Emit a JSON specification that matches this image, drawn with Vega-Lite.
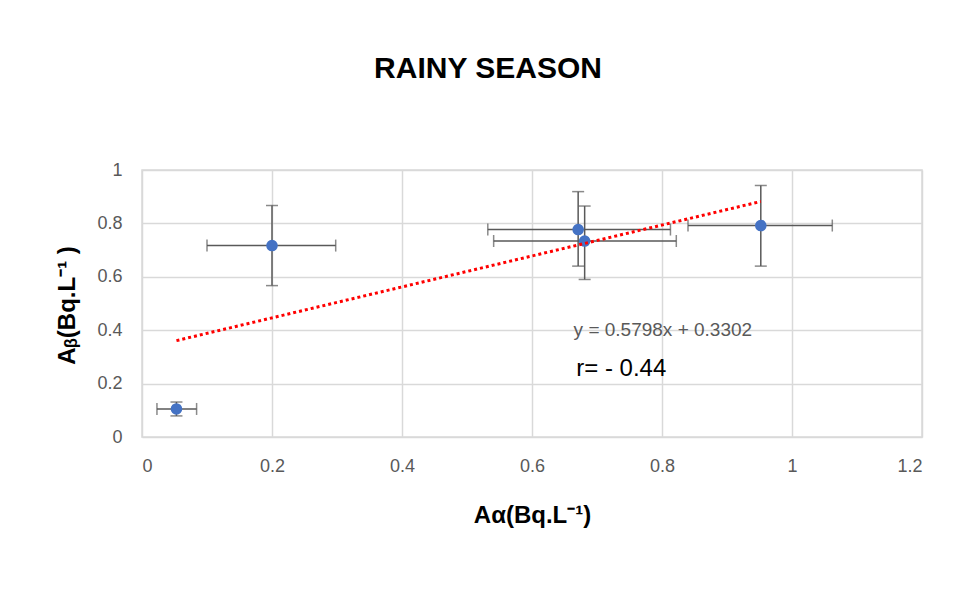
{
  "$schema": "https://vega.github.io/schema/vega-lite/v6.json",
  "width": 780,
  "height": 267,
  "autosize": {"type": "none"},
  "padding": {"left": 142, "top": 170, "right": 31, "bottom": 154},
  "background": "white",
  "title": {
    "text": "RAINY SEASON",
    "font": "Liberation Sans",
    "fontSize": 30,
    "fontWeight": "bold",
    "color": "#000000",
    "anchor": "middle",
    "frame": "group",
    "dx": -44,
    "baseline": "bottom",
    "offset": 47
  },
  "config": {
    "view": {"stroke": "#d9d9d9", "strokeWidth": 1.5},
    "axis": {
      "labelFont": "Liberation Sans",
      "labelFontSize": 18,
      "labelColor": "#595959",
      "titleFont": "Liberation Sans",
      "titleFontSize": 24,
      "titleFontWeight": "bold",
      "titleColor": "#000000",
      "gridColor": "#d9d9d9",
      "gridWidth": 1.5,
      "domain": false,
      "ticks": false,
      "tickSize": 0,
      "format": "~g"
    }
  },
  "datasets": {
    "points": [
      {"ax": 0.053, "ab": 0.105, "ax_lo": 0.023, "ax_hi": 0.084, "ab_lo": 0.079, "ab_hi": 0.131},
      {"ax": 0.2, "ab": 0.717, "ax_lo": 0.1, "ax_hi": 0.298, "ab_lo": 0.567, "ab_hi": 0.867},
      {"ax": 0.671, "ab": 0.777, "ax_lo": 0.532, "ax_hi": 0.813, "ab_lo": 0.64, "ab_hi": 0.919},
      {"ax": 0.681, "ab": 0.734, "ax_lo": 0.541, "ax_hi": 0.822, "ab_lo": 0.59, "ab_hi": 0.865},
      {"ax": 0.952, "ab": 0.792, "ax_lo": 0.84, "ax_hi": 1.062, "ab_lo": 0.64, "ab_hi": 0.942}
    ],
    "trend": [
      {"ax": 0.053, "ab": 0.361},
      {"ax": 0.952, "ab": 0.882}
    ],
    "notes": [
      {"label": "y = 0.5798x + 0.3302", "kind": "equation"},
      {"label": "r= - 0.44", "kind": "r"}
    ]
  },
  "layer": [
    {
      "data": {"name": "points"},
      "mark": {"type": "rule", "color": "#595959", "strokeWidth": 1.5},
      "encoding": {
        "x": {"field": "ax_lo", "type": "quantitative",
          "scale": {"domain": [0, 1.2], "nice": false, "zero": false},
          "axis": {"values": [0, 0.2, 0.4, 0.6, 0.8, 1, 1.2], "format": "~g", "title": "Aα(Bq.L⁻¹)", "labelPadding": 20,
            "titleX": 390, "titleY": 78, "titleBaseline": "middle", "titleAlign": "center"}},
        "x2": {"field": "ax_hi"},
        "y": {"field": "ab", "type": "quantitative",
          "scale": {"domain": [0, 1], "nice": false, "zero": false},
          "axis": {"values": [0, 0.2, 0.4, 0.6, 0.8, 1], "format": "~g", "title": "Aᵦ(Bq.L⁻¹ )", "labelPadding": 20,
            "titleX": -75, "titleY": 135, "titleAngle": 270, "titleBaseline": "middle", "titleAlign": "center"}}
      }
    },
    {
      "data": {"name": "points"},
      "mark": {"type": "rule", "color": "#595959", "strokeWidth": 1.5},
      "encoding": {
        "x": {"field": "ax", "type": "quantitative"},
        "y": {"field": "ab_lo", "type": "quantitative"},
        "y2": {"field": "ab_hi"}
      }
    },
    {
      "data": {"name": "points"},
      "mark": {"type": "tick", "orient": "vertical", "color": "#595959", "thickness": 1.5, "size": 12},
      "encoding": {
        "x": {"field": "ax_lo", "type": "quantitative"},
        "y": {"field": "ab", "type": "quantitative"}
      }
    },
    {
      "data": {"name": "points"},
      "mark": {"type": "tick", "orient": "vertical", "color": "#595959", "thickness": 1.5, "size": 12},
      "encoding": {
        "x": {"field": "ax_hi", "type": "quantitative"},
        "y": {"field": "ab", "type": "quantitative"}
      }
    },
    {
      "data": {"name": "points"},
      "mark": {"type": "tick", "orient": "horizontal", "color": "#595959", "thickness": 1.5, "size": 12},
      "encoding": {
        "x": {"field": "ax", "type": "quantitative"},
        "y": {"field": "ab_lo", "type": "quantitative"}
      }
    },
    {
      "data": {"name": "points"},
      "mark": {"type": "tick", "orient": "horizontal", "color": "#595959", "thickness": 1.5, "size": 12},
      "encoding": {
        "x": {"field": "ax", "type": "quantitative"},
        "y": {"field": "ab_hi", "type": "quantitative"}
      }
    },
    {
      "data": {"name": "points"},
      "mark": {"type": "circle", "color": "#4472C4", "opacity": 1, "size": 135},
      "encoding": {
        "x": {"field": "ax", "type": "quantitative"},
        "y": {"field": "ab", "type": "quantitative"}
      }
    },
    {
      "data": {"name": "trend"},
      "mark": {"type": "line", "color": "#FF0000", "strokeWidth": 3, "strokeDash": [3, 3]},
      "encoding": {
        "x": {"field": "ax", "type": "quantitative"},
        "y": {"field": "ab", "type": "quantitative"}
      }
    },
    {
      "data": {"name": "notes"},
      "transform": [{"filter": "datum.kind === 'equation'"}],
      "mark": {"type": "text", "font": "Liberation Sans", "fontSize": 19, "color": "#595959", "align": "left", "baseline": "middle"},
      "encoding": {
        "text": {"field": "label"},
        "x": {"datum": 0.664},
        "y": {"datum": 0.402}
      }
    },
    {
      "data": {"name": "notes"},
      "transform": [{"filter": "datum.kind === 'r'"}],
      "mark": {"type": "text", "font": "Liberation Sans", "fontSize": 24, "color": "#000000", "align": "left", "baseline": "middle"},
      "encoding": {
        "text": {"field": "label"},
        "x": {"datum": 0.668},
        "y": {"datum": 0.256}
      }
    }
  ]
}
